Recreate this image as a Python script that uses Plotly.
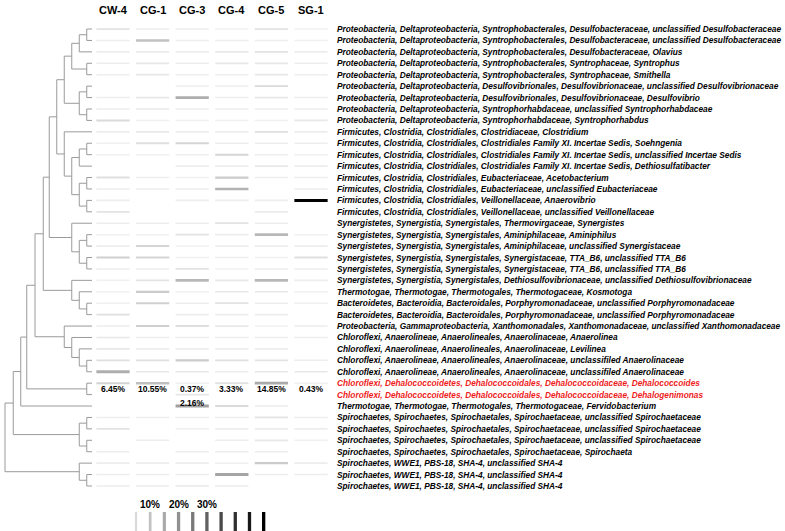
import plotly.graph_objects as go

# samples (columns of the abundance map)
samples = ["CW-4", "CG-1", "CG-3", "CG-4", "CG-5", "SG-1"]

taxa = [
    "Proteobacteria, Deltaproteobacteria, Syntrophobacterales, Desulfobacteraceae, unclassified Desulfobacteraceae",
    "Proteobacteria, Deltaproteobacteria, Syntrophobacterales, Desulfobacteraceae, unclassified Desulfobacteraceae",
    "Proteobacteria, Deltaproteobacteria, Syntrophobacterales, Desulfobacteraceae, Olavius",
    "Proteobacteria, Deltaproteobacteria, Syntrophobacterales, Syntrophaceae, Syntrophus",
    "Proteobacteria, Deltaproteobacteria, Syntrophobacterales, Syntrophaceae, Smithella",
    "Proteobacteria, Deltaproteobacteria, Desulfovibrionales, Desulfovibrionaceae, unclassified Desulfovibrionaceae",
    "Proteobacteria, Deltaproteobacteria, Desulfovibrionales, Desulfovibrionaceae, Desulfovibrio",
    "Proteobacteria, Deltaproteobacteria, Syntrophorhabdaceae, unclassified Syntrophorhabdaceae",
    "Proteobacteria, Deltaproteobacteria, Syntrophorhabdaceae, Syntrophorhabdus",
    "Firmicutes, Clostridia, Clostridiales, Clostridiaceae, Clostridium",
    "Firmicutes, Clostridia, Clostridiales, Clostridiales Family XI. Incertae Sedis, Soehngenia",
    "Firmicutes, Clostridia, Clostridiales, Clostridiales Family XI. Incertae Sedis, unclassified Incertae Sedis",
    "Firmicutes, Clostridia, Clostridiales, Clostridiales Family XI. Incertae Sedis, Dethiosulfatibacter",
    "Firmicutes, Clostridia, Clostridiales, Eubacteriaceae, Acetobacterium",
    "Firmicutes, Clostridia, Clostridiales, Eubacteriaceae, unclassified Eubacteriaceae",
    "Firmicutes, Clostridia, Clostridiales, Veillonellaceae, Anaerovibrio",
    "Firmicutes, Clostridia, Clostridiales, Veillonellaceae, unclassified Veillonellaceae",
    "Synergistetes, Synergistia, Synergistales, Thermovirgaceae, Synergistes",
    "Synergistetes, Synergistia, Synergistales, Aminiphilaceae, Aminiphilus",
    "Synergistetes, Synergistia, Synergistales, Aminiphilaceae, unclassified Synergistaceae",
    "Synergistetes, Synergistia, Synergistales, Synergistaceae, TTA_B6, unclassified TTA_B6",
    "Synergistetes, Synergistia, Synergistales, Synergistaceae, TTA_B6, unclassified TTA_B6",
    "Synergistetes, Synergistia, Synergistales, Dethiosulfovibrionaceae, unclassified Dethiosulfovibrionaceae",
    "Thermotogae, Thermotogae, Thermotogales, Thermotogaceae, Kosmotoga",
    "Bacteroidetes, Bacteroidia, Bacteroidales, Porphyromonadaceae, unclassified Porphyromonadaceae",
    "Bacteroidetes, Bacteroidia, Bacteroidales, Porphyromonadaceae, unclassified Porphyromonadaceae",
    "Proteobacteria, Gammaproteobacteria, Xanthomonadales, Xanthomonadaceae, unclassified Xanthomonadaceae",
    "Chloroflexi, Anaerolineae, Anaerolineales, Anaerolinaceae, Anaerolinea",
    "Chloroflexi, Anaerolineae, Anaerolineales, Anaerolinaceae, Levilinea",
    "Chloroflexi, Anaerolineae, Anaerolineales, Anaerolinaceae, unclassifiled Anaerolinaceae",
    "Chloroflexi, Anaerolineae, Anaerolineales, Anaerolinaceae, unclassifiled Anaerolinaceae",
    "Chloroflexi, Dehalococcoidetes, Dehalococcoidales, Dehalococcoidaceae, Dehalococcoides",
    "Chloroflexi, Dehalococcoidetes, Dehalococcoidales, Dehalococcoidaceae, Dehalogenimonas",
    "Thermotogae, Thermotogae, Thermotogales, Thermotogaceae, Fervidobacterium",
    "Spirochaetes, Spirochaetes, Spirochaetales, Spirochaetaceae, unclassified Spirochaetaceae",
    "Spirochaetes, Spirochaetes, Spirochaetales, Spirochaetaceae, unclassified Spirochaetaceae",
    "Spirochaetes, Spirochaetes, Spirochaetales, Spirochaetaceae, unclassified Spirochaetaceae",
    "Spirochaetes, Spirochaetes, Spirochaetales, Spirochaetaceae, Spirochaeta",
    "Spirochaetes, WWE1, PBS-18, SHA-4, unclassified SHA-4",
    "Spirochaetes, WWE1, PBS-18, SHA-4, unclassified SHA-4",
    "Spirochaetes, WWE1, PBS-18, SHA-4, unclassified SHA-4",
]
highlighted = [31, 32]  # dehalorespiring taxa shown in red

# relative abundance (%) per sample, one value per taxon
cw4 = [3, 1, 1, 1, 1, 0, 1, 1, 5, 1, 0.5, 0.5, 0, 4, 1, 1, 3, 1, 0.5, 1, 7,
       1, 0.5, 0.5, 0.5, 4, 1, 2, 2, 4, 14, 6.45, 0, 0, 1, 3, 0, 1, 1, 1, 1]
cg1 = [1, 10, 1.5, 2, 2, 0, 2, 2, 0.5, 2, 4, 0.5, 0, 1, 1, 0, 0, 1, 0.5, 6, 6,
       1, 3, 8, 7, 0, 7, 1, 1, 4, 2, 10.55, 0, 0, 1, 0, 1, 0, 1, 1, 1]
cg3 = [1, 1, 1, 1, 1, 0.5, 14, 1, 0.5, 1, 6, 1, 1, 0.5, 1, 1, 0, 1, 3, 0.5, 0.5,
       3, 12, 0.5, 1, 1, 4, 1, 1, 8, 2, 0.37, 2.16, 17, 1, 0.5, 0, 1, 1, 1, 2]
cg4 = [0.5, 1, 2, 2, 1, 0.5, 1, 1, 0.5, 1, 1, 6, 1, 8, 13, 1, 0, 3, 1, 1, 1,
       0.5, 2, 2, 3, 1, 2, 1, 1, 4, 1, 3.33, 0, 5, 1, 1, 1, 1, 0.5, 16, 1]
cg5 = [3, 1, 3, 2, 2, 5, 2, 1, 0.5, 4, 1, 1, 2, 1, 0, 1, 1.5, 1, 12, 1, 0.5,
       1, 12, 2, 1, 1, 0.5, 1, 1, 3, 2, 14.85, 0, 1, 3, 1.5, 2, 1, 8, 1, 0]
sg1 = [0.5, 0.5, 1, 1, 1, 0, 1, 1, 2, 1, 1, 0.5, 1, 1, 1, 50, 0, 0, 0.5, 1, 4,
       1, 1, 0.5, 0.5, 0, 1, 1, 0, 1, 2, 0.43, 0, 0, 1, 1, 0.5, 0, 1, 1, 0]
abundance = [cw4, cg1, cg3, cg4, cg5, sg1]

# scale bar steps (%)
scale_steps = [5, 10, 15, 20, 25, 30, 35, 40, 45, 50]
scale_labels = [10, 20, 30]

# hierarchical clustering: (child a, child b, height); leaves are 0..40, new nodes 41..
merges = [
    (0, 1, 0.7), (41, 2, 1.7), (3, 4, 0.7), (42, 43, 2.7),
    (5, 6, 0.7), (7, 8, 0.7), (45, 46, 1.7), (44, 47, 3.7),
    (10, 11, 0.7), (49, 12, 1.7), (13, 14, 0.7), (15, 16, 0.7),
    (51, 52, 1.7), (50, 53, 2.7), (9, 54, 3.7), (48, 55, 4.7),
    (18, 19, 0.7), (20, 21, 0.7), (57, 58, 1.7), (17, 59, 2.7),
    (56, 60, 5.7), (24, 25, 0.7), (23, 62, 1.7), (22, 63, 2.7),
    (61, 64, 6.5), (29, 30, 0.7), (28, 66, 1.7), (27, 67, 2.7),
    (26, 68, 3.7), (65, 69, 7.6), (31, 32, 0.7), (70, 71, 8.7),
    (72, 33, 9.5), (34, 35, 0.7), (36, 37, 0.7), (74, 75, 1.7),
    (73, 76, 10.5), (39, 40, 0.7), (38, 78, 1.7), (77, 79, 11.6),
]

FONT = "Liberation Sans, Arial, sans-serif"


def grey(v):
    g = int(round(max(0, 242 - 4.84 * v)))
    return f"rgb({g},{g},{g})"


def thick(v):
    return min(3.0, 1.5 + 0.09 * v)


fig = go.Figure()

# dendrogram
n = len(taxa)
pos = {i: float(i) for i in range(n)}
hgt = {i: 0.0 for i in range(n)}
dx, dy = [], []
for k, (a, b, h) in enumerate(merges):
    node = n + k
    dx += [hgt[a], h, h, hgt[b], None]
    dy += [pos[a], pos[a], pos[b], pos[b], None]
    pos[node] = (pos[a] + pos[b]) / 2
    hgt[node] = h
fig.add_trace(go.Scatter(x=dx, y=dy, mode="lines", xaxis="x", yaxis="y",
                         line=dict(color="#9a9a9a", width=1), hoverinfo="skip"))

# abundance segments
for j, col in enumerate(abundance):
    for i, v in enumerate(col):
        if v <= 0:
            continue
        fig.add_trace(go.Scatter(x=[j - 0.42, j + 0.42], y=[i, i], mode="lines",
                                 xaxis="x2", yaxis="y",
                                 line=dict(color=grey(v), width=thick(v)),
                                 hoverinfo="skip"))

# scale bar
for v in scale_steps:
    fig.add_trace(go.Scatter(x=[v, v], y=[42.27, 44.6], mode="lines",
                             xaxis="x3", yaxis="y",
                             line=dict(color=grey(v), width=thick(v) + 0.3),
                             hoverinfo="skip"))

ann = []
for j, s in enumerate(samples):
    ann.append(dict(x=j, y=-1.7, xref="x2", yref="y", text=f"<b>{s}</b>",
                    showarrow=False, font=dict(size=11, color="black", family=FONT)))

# percentages of the Dehalococcoides row, plus Dehalogenimonas in CG-3
for j, col in enumerate(abundance):
    ann.append(dict(x=j, y=31.5, xref="x2", yref="y", text=f"<b>{col[31]:.2f}%</b>",
                    showarrow=False, font=dict(size=8.5, color="black", family=FONT)))
ann.append(dict(x=2, y=32.7, xref="x2", yref="y", text=f"<b>{cg3[32]:.2f}%</b>",
                showarrow=False, font=dict(size=8.5, color="black", family=FONT)))

for i, t in enumerate(taxa):
    ann.append(dict(x=335 / 785, y=i, xref="paper", yref="y", xanchor="left",
                    text=f"<b><i>{t}</i></b>", showarrow=False,
                    font=dict(size=8.3, family=FONT,
                              color="#ee1c1c" if i in highlighted else "black")))

for v in scale_labels:
    ann.append(dict(x=v, y=41.6, xref="x3", yref="y", text=f"<b>{v}%</b>",
                    showarrow=False, font=dict(size=10, color="black", family=FONT)))

hidden = dict(visible=False, showgrid=False, zeroline=False)
fig.update_layout(
    width=785, height=531,
    margin=dict(l=0, r=0, t=0, b=0),
    paper_bgcolor="white", plot_bgcolor="rgba(0,0,0,0)",
    showlegend=False,
    xaxis=dict(domain=[0, 92 / 785], range=[92 / 7.5, 0], anchor="y", **hidden),
    xaxis2=dict(domain=[93.2 / 785, 330.8 / 785], range=[-0.5, 5.5], anchor="y", **hidden),
    xaxis3=dict(domain=[121.8 / 785, 278.7 / 785], range=[0, 55.3], anchor="y", **hidden),
    yaxis=dict(domain=[0, 1], range=[43.94, -2.54], **hidden),
    annotations=ann,
)

fig.write_html("out.html", config={"displayModeBar": False},
               post_script="document.body.style.margin = '0';")
